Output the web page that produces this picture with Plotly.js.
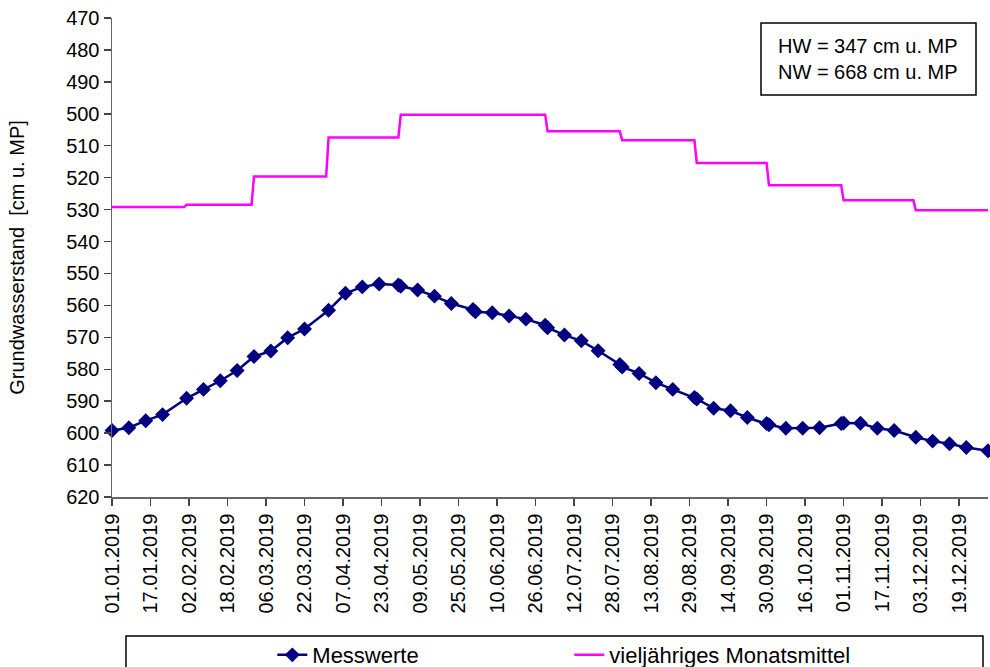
<!DOCTYPE html>
<html>
<head>
<meta charset="utf-8">
<script src="https://cdn.plot.ly/plotly-3.0.1.min.js"></script>
<style>html,body{margin:0;padding:0;background:#fff;}#chart{width:990px;height:667px;}</style>
</head>
<body>
<div id="chart"></div>
<script>
// Measured groundwater levels (cm below measuring point)
var measDates = [
  '2019-01-01','2019-01-08','2019-01-15','2019-01-22',
  '2019-02-01','2019-02-08','2019-02-15','2019-02-22',
  '2019-03-01','2019-03-08','2019-03-15','2019-03-22',
  '2019-04-01','2019-04-08','2019-04-15','2019-04-22','2019-04-30',
  '2019-05-01','2019-05-08','2019-05-15','2019-05-22','2019-05-31',
  '2019-06-01','2019-06-08','2019-06-15','2019-06-22','2019-06-30',
  '2019-07-01','2019-07-08','2019-07-15','2019-07-22','2019-07-31',
  '2019-08-01','2019-08-08','2019-08-15','2019-08-22','2019-08-31',
  '2019-09-01','2019-09-08','2019-09-15','2019-09-22','2019-09-30',
  '2019-10-01','2019-10-08','2019-10-15','2019-10-22','2019-10-31',
  '2019-11-01','2019-11-08','2019-11-15','2019-11-22',
  '2019-12-01','2019-12-08','2019-12-15','2019-12-22','2019-12-31'
];
var measValues = [
  599.2, 598.3, 596.1, 594.2,
  589.1, 586.3, 583.6, 580.4,
  576.0, 574.3, 570.1, 567.4,
  561.5, 556.2, 554.2, 553.3, 553.6,
  554.0, 555.2, 557.1, 559.4, 561.3,
  562.0, 562.3, 563.3, 564.3, 566.2,
  567.0, 569.3, 571.1, 574.2, 578.5,
  579.3, 581.3, 584.2, 586.3, 588.8,
  589.3, 592.2, 593.0, 595.1, 597.0,
  597.4, 598.5, 598.5, 598.3, 597.0,
  596.8, 596.9, 598.5, 599.2,
  601.3, 602.5, 603.3, 604.5, 605.5
];

// Long-term monthly means
var monthStart = ['2019-01-01','2019-02-01','2019-03-01','2019-04-01','2019-05-01','2019-06-01',
                  '2019-07-01','2019-08-01','2019-09-01','2019-10-01','2019-11-01','2019-12-01'];
var monthEnd   = ['2019-01-31','2019-02-28','2019-03-31','2019-04-30','2019-05-31','2019-06-30',
                  '2019-07-31','2019-08-31','2019-09-30','2019-10-31','2019-11-30','2019-12-31'];
var monthMean  = [529.2, 528.5, 519.6, 507.4, 500.3, 500.3, 505.5, 508.3, 515.4, 522.4, 527.1, 530.2];

// x tick positions and labels
var tickDates = ['2019-01-01','2019-01-17','2019-02-02','2019-02-18','2019-03-06','2019-03-22',
  '2019-04-07','2019-04-23','2019-05-09','2019-05-25','2019-06-10','2019-06-26','2019-07-12',
  '2019-07-28','2019-08-13','2019-08-29','2019-09-14','2019-09-30','2019-10-16','2019-11-01',
  '2019-11-17','2019-12-03','2019-12-19'];
var tickLabels = ['01.01.2019','17.01.2019','02.02.2019','18.02.2019','06.03.2019','22.03.2019',
  '07.04.2019','23.04.2019','09.05.2019','25.05.2019','10.06.2019','26.06.2019','12.07.2019',
  '28.07.2019','13.08.2019','29.08.2019','14.09.2019','30.09.2019','16.10.2019','01.11.2019',
  '17.11.2019','03.12.2019','19.12.2019'];

var infoLines = ['HW = 347 cm u. MP', 'NW = 668 cm u. MP'];

var meanX = [], meanY = [];
for (var i = 0; i < monthMean.length; i++) {
  meanX.push(monthStart[i]); meanY.push(monthMean[i]);
  meanX.push(monthEnd[i]);   meanY.push(monthMean[i]);
}

var FONT = 'Liberation Sans, Arial, sans-serif';

var traces = [
  {
    x: measDates, y: measValues, name: 'Messwerte', type: 'scatter', mode: 'lines+markers',
    line: {color: '#000080', width: 2.5},
    marker: {symbol: 'diamond', size: 11.5, color: '#000080'},
    cliponaxis: false
  },
  {
    x: meanX, y: meanY, name: 'vieljähriges Monatsmittel', type: 'scatter', mode: 'lines',
    line: {color: '#FF00FF', width: 2.5}
  }
];

var layout = {
  width: 990, height: 667,
  margin: {l: 112, r: 2, t: 18, b: 170, autoexpand: false},
  paper_bgcolor: '#ffffff', plot_bgcolor: '#ffffff',
  font: {family: FONT, color: '#000', size: 20},
  showlegend: true,
  legend: {
    orientation: 'h', x: 0.183, xanchor: 'left', y: -0.33, yanchor: 'middle',
    font: {family: FONT, size: 22, color: '#000'},
    bgcolor: 'rgba(0,0,0,0)', borderwidth: 0,
    entrywidth: 252, itemwidth: 30
  },
  xaxis: {
    type: 'date', range: ['2019-01-01', '2019-12-31'],
    tickmode: 'array', tickvals: tickDates, ticktext: tickLabels,
    tickangle: -90, ticks: 'outside', ticklen: 7, tickcolor: '#444', tickwidth: 1.5,
    showline: true, linecolor: '#666', linewidth: 1.5,
    showgrid: false, zeroline: false, automargin: false,
    tickfont: {family: FONT, size: 20, color: '#000'}
  },
  yaxis: {
    range: [620, 470], dtick: 10, tick0: 470,
    ticks: 'outside', ticklen: 7, tickcolor: '#444', tickwidth: 1.5,
    showline: true, linecolor: '#666', linewidth: 1.5,
    showgrid: false, zeroline: false, automargin: false,
    tickfont: {family: FONT, size: 20, color: '#000'},
    title: {text: 'Grundwasserstand  [cm u. MP]', font: {family: FONT, size: 20, color: '#000'}, standoff: 36}
  },
  shapes: [
    {type: 'rect', xref: 'paper', yref: 'paper',
     x0: (761 - 112) / 876, x1: (976 - 112) / 876, y0: (497 - 95) / 479, y1: (497 - 23) / 479,
     line: {color: '#000', width: 1.5}, fillcolor: '#fff', layer: 'above'},
    {type: 'rect', xref: 'paper', yref: 'paper',
     x0: (126 - 112) / 876, x1: (983 - 112) / 876, y0: (497 - 680) / 479, y1: (497 - 636) / 479,
     line: {color: '#000', width: 1.5}, fillcolor: 'rgba(0,0,0,0)'}
  ],
  annotations: [
    {xref: 'paper', yref: 'paper', x: (868 - 112) / 876, y: (497 - 59) / 479,
     xanchor: 'center', yanchor: 'middle', showarrow: false, align: 'left',
     text: infoLines.join('<br>'), font: {family: FONT, size: 20, color: '#000'}}
  ]
};

Plotly.newPlot('chart', traces, layout, {displayModeBar: false, staticPlot: true});
</script>
</body>
</html>
